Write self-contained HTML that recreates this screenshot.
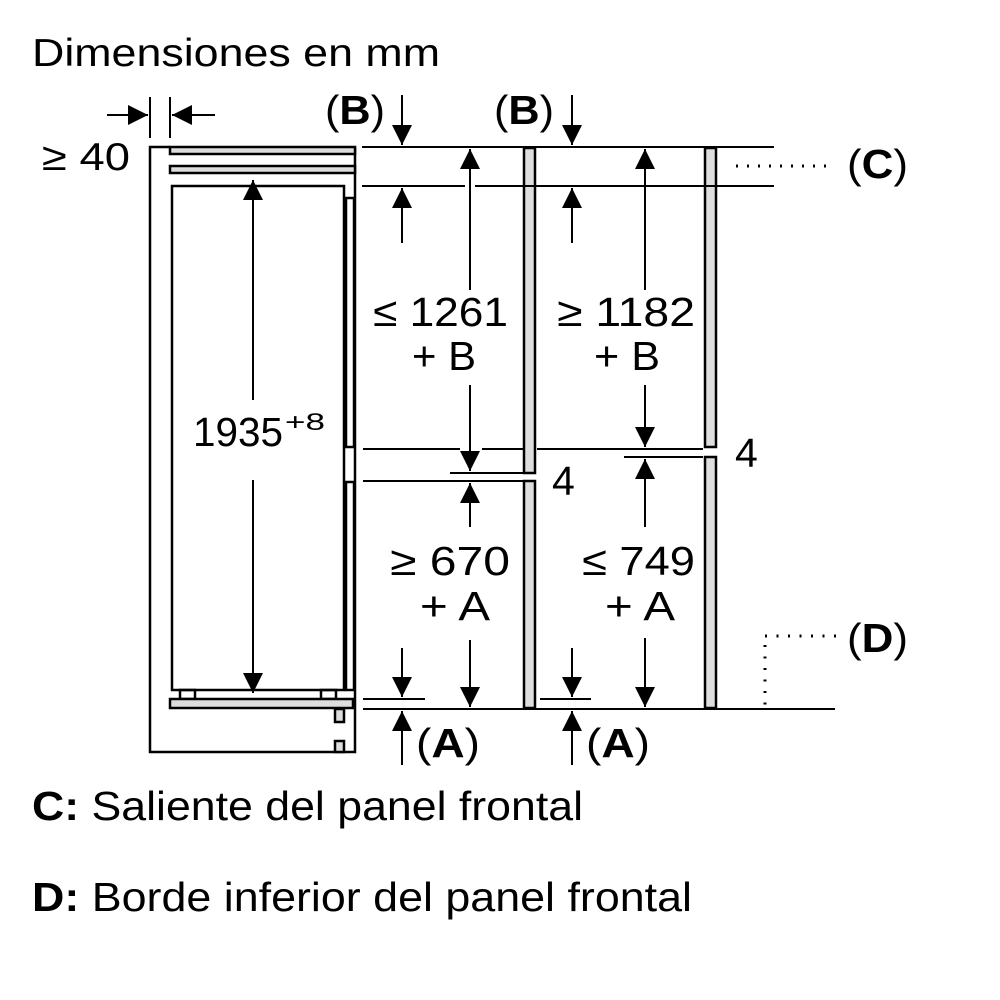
<!DOCTYPE html>
<html><head><meta charset="utf-8"><style>
html,body{margin:0;padding:0;background:#fff;width:1000px;height:1000px;overflow:hidden}
svg{display:block}
text{font-family:"Liberation Sans",Arial,sans-serif;fill:#000}
</style></head><body>
<svg width="1000" height="1000" viewBox="0 0 1000 1000" xmlns="http://www.w3.org/2000/svg">
<defs>
<marker id="ah" viewBox="0 0 10 10" refX="10" refY="5" markerWidth="20" markerHeight="20" markerUnits="userSpaceOnUse" orient="auto">
<path d="M0,0 L10,5 L0,10 z" fill="#000"/></marker>
</defs>
<g font-size="39" lengthAdjust="spacingAndGlyphs">
<text x="32" y="66" textLength="408" lengthAdjust="spacingAndGlyphs">Dimensiones en mm</text>
<text x="42" y="170" textLength="88" lengthAdjust="spacingAndGlyphs">≥ 40</text>
</g>

<g stroke="#000" fill="none" stroke-width="2.5">
<path d="M170,147 H150 V752 H355 V147"/>
<rect x="170" y="147" width="185" height="7" fill="#ddd"/>
<rect x="170" y="166" width="185" height="7" fill="#ddd"/>
<rect x="172" y="186" width="172" height="504"/>
<rect x="346" y="198" width="8" height="249" fill="#fff"/>
<rect x="346" y="482" width="8" height="208" fill="#fff"/>
<rect x="180" y="690" width="15" height="9"/>
<rect x="321" y="690" width="15" height="9"/>
<rect x="170" y="699" width="183" height="9" fill="#ddd"/>
<rect x="335" y="709" width="9" height="13" fill="#ddd"/>
<rect x="335" y="741" width="9" height="11" fill="#ddd"/>
<rect x="524" y="148" width="11" height="325" fill="#ddd"/>
<rect x="524" y="481" width="11" height="227" fill="#ddd"/>
<rect x="705" y="148" width="11" height="299" fill="#ddd"/>
<rect x="705" y="457" width="11" height="251" fill="#ddd"/>
</g>

<g stroke="#000" stroke-width="2" fill="none">
<line x1="150" y1="97" x2="150" y2="138"/>
<line x1="170" y1="97" x2="170" y2="138"/>
<line x1="107" y1="115" x2="148" y2="115" marker-end="url(#ah)"/>
<line x1="215" y1="115" x2="172" y2="115" marker-end="url(#ah)"/>
<line x1="253" y1="400" x2="253" y2="180" marker-end="url(#ah)"/>
<line x1="253" y1="480" x2="253" y2="693" marker-end="url(#ah)"/>
<line x1="362" y1="147" x2="774" y2="147"/>
<line x1="362" y1="186" x2="465" y2="186"/>
<line x1="475" y1="186" x2="774" y2="186"/>
<line x1="363" y1="449" x2="460" y2="449"/>
<line x1="482" y1="449" x2="523" y2="449"/>
<line x1="537" y1="449" x2="703" y2="449"/>
<line x1="450" y1="473" x2="535" y2="473"/>
<line x1="363" y1="481" x2="523" y2="481"/>
<line x1="624" y1="457" x2="703" y2="457"/>
<line x1="363" y1="699" x2="425" y2="699"/>
<line x1="540" y1="699" x2="591" y2="699"/>
<line x1="363" y1="709" x2="835" y2="709"/>
<line x1="402" y1="95" x2="402" y2="145" marker-end="url(#ah)"/>
<line x1="402" y1="243" x2="402" y2="188" marker-end="url(#ah)"/>
<line x1="572" y1="95" x2="572" y2="145" marker-end="url(#ah)"/>
<line x1="572" y1="243" x2="572" y2="188" marker-end="url(#ah)"/>
<line x1="470" y1="290" x2="470" y2="149" marker-end="url(#ah)"/>
<line x1="470" y1="385" x2="470" y2="471" marker-end="url(#ah)"/>
<line x1="645" y1="290" x2="645" y2="149" marker-end="url(#ah)"/>
<line x1="645" y1="385" x2="645" y2="447" marker-end="url(#ah)"/>
<line x1="470" y1="527" x2="470" y2="483" marker-end="url(#ah)"/>
<line x1="470" y1="640" x2="470" y2="707" marker-end="url(#ah)"/>
<line x1="645" y1="527" x2="645" y2="459" marker-end="url(#ah)"/>
<line x1="645" y1="638" x2="645" y2="707" marker-end="url(#ah)"/>
<line x1="402" y1="648" x2="402" y2="697" marker-end="url(#ah)"/>
<line x1="402" y1="765" x2="402" y2="711" marker-end="url(#ah)"/>
<line x1="572" y1="648" x2="572" y2="697" marker-end="url(#ah)"/>
<line x1="572" y1="765" x2="572" y2="711" marker-end="url(#ah)"/>
<line x1="736" y1="166" x2="830" y2="166" stroke-width="3" stroke-dasharray="2 9"/>
<line x1="765" y1="636" x2="836" y2="636" stroke-width="3" stroke-dasharray="2 9.5"/>
<line x1="765" y1="645" x2="765" y2="708" stroke-width="3" stroke-dasharray="2 9.5"/>
</g>

<g font-size="41">
<text x="325" y="124" textLength="60" lengthAdjust="spacingAndGlyphs">(<tspan font-weight="bold">B</tspan>)</text>
<text x="494" y="124" textLength="60" lengthAdjust="spacingAndGlyphs">(<tspan font-weight="bold">B</tspan>)</text>
<text x="847" y="178" textLength="61" lengthAdjust="spacingAndGlyphs">(<tspan font-weight="bold">C</tspan>)</text>
<text x="847" y="652" textLength="61" lengthAdjust="spacingAndGlyphs">(<tspan font-weight="bold">D</tspan>)</text>
<text x="416" y="757" textLength="64" lengthAdjust="spacingAndGlyphs">(<tspan font-weight="bold">A</tspan>)</text>
<text x="586" y="757" textLength="64" lengthAdjust="spacingAndGlyphs">(<tspan font-weight="bold">A</tspan>)</text>
<text x="193" y="446" textLength="90" lengthAdjust="spacingAndGlyphs">1935</text>
<text x="285" y="430" font-size="24" textLength="40" lengthAdjust="spacingAndGlyphs">+8</text>
<text x="373" y="326" textLength="135" lengthAdjust="spacingAndGlyphs">≤ 1261</text>
<text x="412" y="370" textLength="64" lengthAdjust="spacingAndGlyphs">+ B</text>
<text x="557" y="326" textLength="138" lengthAdjust="spacingAndGlyphs">≥ 1182</text>
<text x="594" y="370" textLength="66" lengthAdjust="spacingAndGlyphs">+ B</text>
<text x="390" y="575" textLength="120" lengthAdjust="spacingAndGlyphs">≥ 670</text>
<text x="420" y="620" textLength="70" lengthAdjust="spacingAndGlyphs">+ A</text>
<text x="582" y="575" textLength="113" lengthAdjust="spacingAndGlyphs">≤ 749</text>
<text x="605" y="620" textLength="70" lengthAdjust="spacingAndGlyphs">+ A</text>
<text x="552" y="495">4</text>
<text x="735" y="467">4</text>
<text x="32" y="820" textLength="551" lengthAdjust="spacingAndGlyphs"><tspan font-weight="bold">C:</tspan> Saliente del panel frontal</text>
<text x="32" y="911" textLength="660" lengthAdjust="spacingAndGlyphs"><tspan font-weight="bold">D:</tspan> Borde inferior del panel frontal</text>
</g>
</svg>
</body></html>
